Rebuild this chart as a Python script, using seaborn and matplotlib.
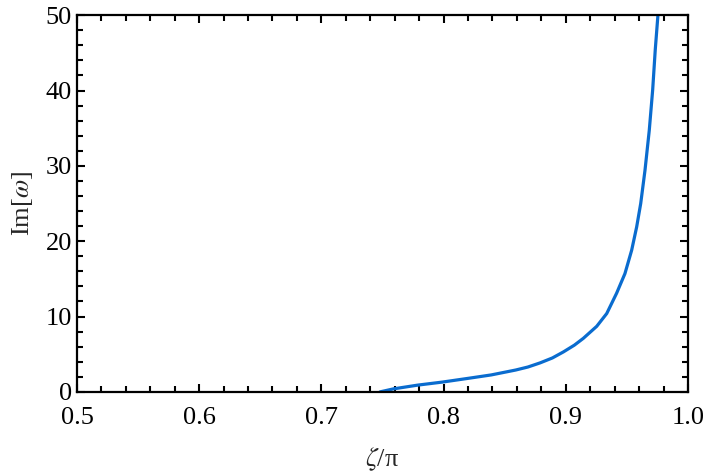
import matplotlib
matplotlib.use('Agg')
import matplotlib.pyplot as plt
from matplotlib.ticker import MultipleLocator
import seaborn as sns
import pandas as pd

# values
zeta = [0.748, 0.759, 0.779, 0.799, 0.819, 0.839, 0.859, 0.869, 0.879, 0.889, 0.898,
        0.907, 0.9143, 0.9253, 0.9335, 0.9416, 0.9484, 0.9539, 0.958, 0.9613,
        0.9648, 0.9683, 0.9711, 0.9732, 0.9754]
im_omega = [0.0, 0.4, 0.9, 1.3, 1.77, 2.25, 2.9, 3.3, 3.85, 4.5, 5.3,
            6.2, 7.1, 8.7, 10.4, 13.1, 15.7, 18.8, 21.9, 25.0,
            29.4, 34.7, 40.1, 45.4, 50.0]

df = pd.DataFrame({'zeta': zeta, 'im': im_omega})

sns.set_style('ticks')
plt.rcParams['font.family'] = ['Liberation Serif', 'DejaVu Serif']
plt.rcParams['mathtext.fontset'] = 'stix'

fig = plt.figure(figsize=(7.06, 4.75), dpi=100)
ax = fig.add_axes([0.109, 0.175, 0.8655, 0.793])

sns.lineplot(data=df, x='zeta', y='im', color='#0a6ccf', linewidth=2.3, ax=ax)

ax.set_xlim(0.5, 1.0)
ax.set_ylim(0, 50)
ax.xaxis.set_major_locator(MultipleLocator(0.1))
ax.xaxis.set_minor_locator(MultipleLocator(0.02))
ax.yaxis.set_major_locator(MultipleLocator(10))
ax.yaxis.set_minor_locator(MultipleLocator(2))
ax.tick_params(which='both', direction='in', top=True, right=True, width=1.5,
               labelsize=19, colors='black')
ax.tick_params(which='major', length=6)
ax.tick_params(which='minor', length=4)
ax.tick_params(axis='x', pad=11)
for s in ax.spines.values():
    s.set_linewidth(1.6)
    s.set_color('black')

ax.set_xlabel(r'$\zeta$/π', fontsize=19, labelpad=12)
ax.set_ylabel(r'Im[$\omega$]', fontsize=19, labelpad=8)

fig.savefig('out.png', dpi=100)
